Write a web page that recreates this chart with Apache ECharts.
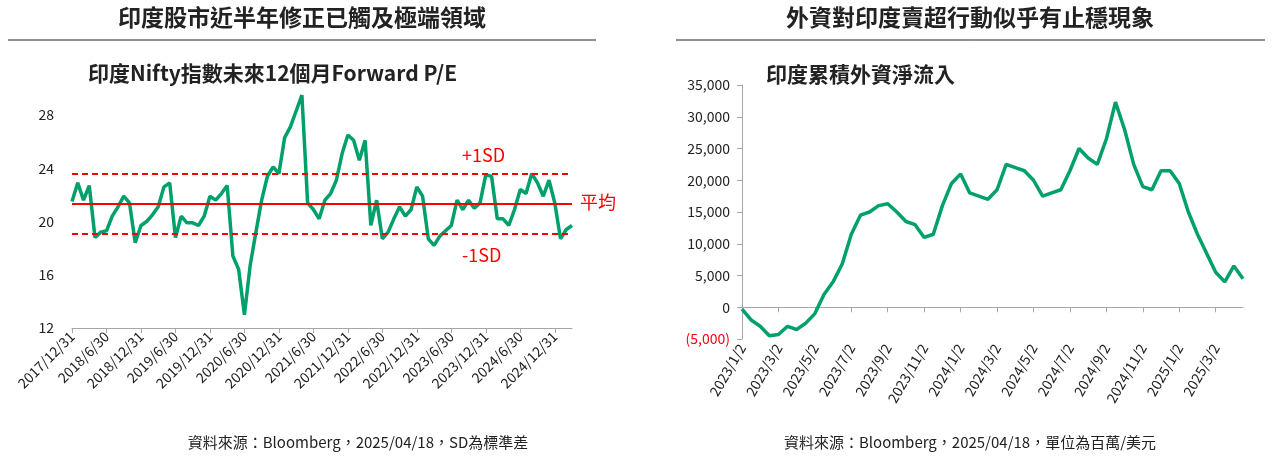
<!DOCTYPE html>
<html><head><meta charset="utf-8">
<script src="https://cdn.jsdelivr.net/npm/echarts@6/dist/echarts.min.js"></script>
<style>html,body{margin:0;background:#fff}#c{width:1272px;height:456px}</style>
</head><body><div id="c"></div>
<script>
// Left: Nifty forward P/E, month-end from 2017/12
const peValues = [21.5,22.9,21.6,22.7,18.8,19.2,19.3,20.4,21.1,21.9,21.4,18.4,19.7,20.0,20.5,21.1,22.6,22.9,18.8,20.4,
  19.9,19.9,19.7,20.4,21.9,21.6,22.1,22.7,17.4,16.4,13.0,16.7,19.2,21.6,23.4,24.1,23.6,26.3,27.1,28.3,
  29.5,21.4,20.9,20.2,21.6,22.1,23.1,25.1,26.5,26.1,24.6,26.1,19.7,21.6,18.7,19.2,20.2,21.1,20.4,20.9,
  22.6,21.9,18.7,18.2,18.9,19.3,19.7,21.6,20.9,21.6,21.0,21.4,23.5,23.4,20.2,20.2,19.7,20.9,22.4,22.1,
  23.6,22.9,21.9,23.1,21.4,18.7,19.4,19.7];
const peMean = 21.3, peUpper = 23.6, peLower = 19.1;
const peDates = [];
for (let i = 0; i < peValues.length; i++) {
  const y = 2017 + Math.floor((11 + i) / 12), m = (11 + i) % 12 + 1;
  const d = new Date(y, m, 0).getDate();
  peDates.push(y + '/' + m + '/' + d);
}
// Right: cumulative foreign flows (USD mn), half-monthly from 2023/1/2
const flowValues = [-300,-2000,-3000,-4500,-4300,-3000,-3500,-2500,-1000,2000,4000,6800,11500,14500,15000,16000,
  16300,15000,13500,13000,11000,11500,16000,19500,21000,18000,17500,17000,18500,22500,22000,21500,
  20000,17500,18000,18500,21500,25000,23500,22500,26500,32300,28000,22500,19000,18500,21500,21500,
  19500,15000,11500,8500,5500,4000,6500,4500];
const flowDates = [];
for (let i = 0; i < flowValues.length; i++) {
  const k = Math.floor(i / 2), y = 2023 + Math.floor(k / 12), m = k % 12 + 1;
  flowDates.push(y + '/' + m + '/' + (i % 2 ? 17 : 2));
}
const FONT = '"Noto Sans CJK TC", "Noto Sans", sans-serif';
const green = '#00a06a';
const chart = echarts.init(document.getElementById('c'));
const axisGray = {lineStyle: {color: '#a6a6a6'}};
chart.setOption({
  animation: false,
  textStyle: {fontFamily: FONT},
  grid: [
    {left: 72, right: 700, top: 95, bottom: 128},
    {left: 742, right: 29, top: 85, bottom: 117}
  ],
  xAxis: [
    {gridIndex: 0, type: 'category', data: peDates, boundaryGap: false,
     axisLine: axisGray, axisTick: {lineStyle: {color: '#a6a6a6'}, interval: i => i % 6 === 0, length: 5},
     axisLabel: {interval: i => i % 6 === 0, rotate: 45, fontSize: 14, color: '#222', margin: 6}},
    {gridIndex: 1, type: 'category', data: flowDates, boundaryGap: false,
     axisLine: axisGray, axisTick: {lineStyle: {color: '#a6a6a6'}, interval: i => i % 4 === 0, length: 5},
     axisLabel: {interval: i => i % 4 === 0, rotate: 60, fontSize: 14, color: '#222', margin: 6}}
  ],
  yAxis: [
    {gridIndex: 0, type: 'value', min: 12, max: 29.5, interval: 4, splitLine: {show: false},
     axisLine: {show: false}, axisTick: {show: false},
     axisLabel: {fontSize: 14, color: '#222', margin: 18, showMaxLabel: false}},
    {gridIndex: 1, type: 'value', min: -5000, max: 35000, interval: 5000, splitLine: {show: false},
     axisLine: {show: true, lineStyle: {color: '#a6a6a6'}}, axisTick: {show: true, lineStyle: {color: '#a6a6a6'}},
     axisLabel: {fontSize: 14, margin: 12,
       formatter: v => v < 0 ? '(' + Math.abs(v).toLocaleString('en-US') + ')' : v.toLocaleString('en-US'),
       color: v => Number(v) < 0 ? '#ff0000' : '#222'}}
  ],
  series: [
    {type: 'line', xAxisIndex: 0, yAxisIndex: 0, data: peValues, showSymbol: false,
     lineStyle: {color: green, width: 3.5}, z: 3,
     markLine: {silent: true, symbol: 'none', label: {show: false},
       data: [
         {yAxis: peUpper, lineStyle: {color: '#ff0000', type: [6, 4], width: 2}},
         {yAxis: peMean, lineStyle: {color: '#ff0000', type: 'solid', width: 2}},
         {yAxis: peLower, lineStyle: {color: '#ff0000', type: [6, 4], width: 2}}
       ]}},
    {type: 'line', xAxisIndex: 1, yAxisIndex: 1, data: flowValues, showSymbol: false,
     lineStyle: {color: green, width: 3.5}}
  ],
  graphic: [
    {type: 'text', x: 302, y: 6, style: {text: '印度股市近半年修正已觸及極端領域', font: 'bold 23px ' + FONT, fill: '#222', align: 'center'}},
    {type: 'line', shape: {x1: 8, y1: 40, x2: 596, y2: 40}, style: {stroke: '#222', lineWidth: 1}},
    {type: 'text', x: 970, y: 6, style: {text: '外資對印度賣超行動似乎有止穩現象', font: 'bold 23px ' + FONT, fill: '#222', align: 'center'}},
    {type: 'line', shape: {x1: 676, y1: 40, x2: 1265, y2: 40}, style: {stroke: '#222', lineWidth: 1}},
    {type: 'text', x: 88, y: 63, style: {text: '印度Nifty指數未來12個月Forward P/E', font: 'bold 21px ' + FONT, fill: '#222'}},
    {type: 'text', x: 766, y: 64, style: {text: '印度累積外資淨流入', font: 'bold 21px ' + FONT, fill: '#222'}},
    {type: 'text', x: 462, y: 146, style: {text: '+1SD', font: '18px ' + FONT, fill: '#ff0000'}},
    {type: 'text', x: 580, y: 193, style: {text: '平均', font: '18px ' + FONT, fill: '#ff0000'}},
    {type: 'text', x: 462, y: 246, style: {text: '-1SD', font: '18px ' + FONT, fill: '#ff0000'}},
    {type: 'text', x: 358, y: 435, style: {text: '資料來源：Bloomberg，2025/04/18，SD為標準差', font: '15px ' + FONT, fill: '#222', align: 'center'}},
    {type: 'text', x: 970, y: 435, style: {text: '資料來源：Bloomberg，2025/04/18，單位為百萬/美元', font: '15px ' + FONT, fill: '#222', align: 'center'}}
  ]
});
</script></body></html>
